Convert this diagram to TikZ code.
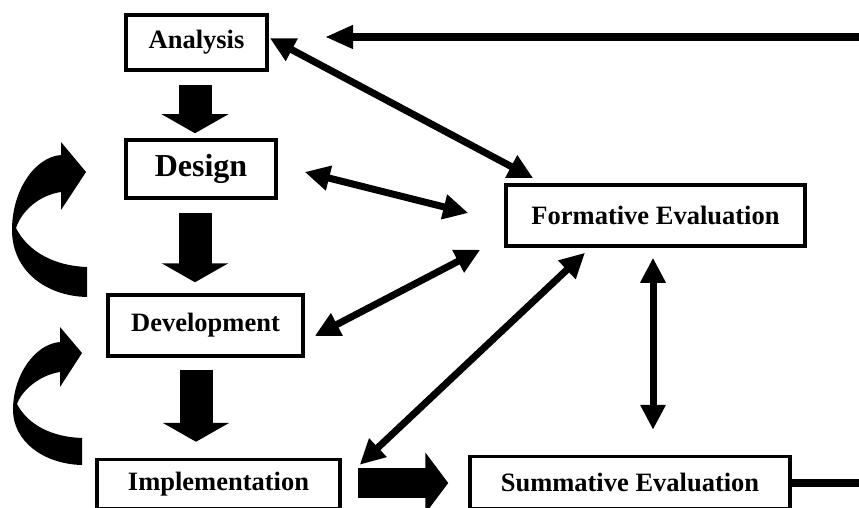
\documentclass[tikz,border=0pt]{standalone}
\usepackage{fontspec}
\setmainfont{Liberation Serif}
\usetikzlibrary{arrows.meta,calc}
\tikzset{every picture/.style={line width=0.75pt}}
\tikzset{
  stagebox/.style={draw, line width=3.5pt, inner sep=0pt,
    font=\bfseries\fontsize{26.5}{30}\selectfont},
  twoway/.style={line width=7pt,
    {Triangle[length=25pt,width=24pt]}-{Triangle[length=25pt,width=24pt]}},
  blockarrow/.style={line width=33pt, -{Triangle[length=19pt,width=66pt]}},
  backline/.style={line width=8pt, -{Triangle[length=28pt,width=22pt]}},
}

\begin{document}
\begin{tikzpicture}[x=1pt,y=1pt,yscale=-1,xscale=1]
\clip (0,0) rectangle (859,508);

% Stage boxes
\node [stagebox, minimum width=141, minimum height=55] (analysis) at (196.5,42.5) {Analysis};
\node [stagebox, minimum width=150, minimum height=58, font=\bfseries\fontsize{32}{36}\selectfont] (design) at (201,169) {Design};
\node [stagebox, minimum width=195, minimum height=61] (development) at (205.5,325.5) {Development};
\node [stagebox, minimum width=243, minimum height=49] (implementation) at (218.5,484) {Implementation};
\node [stagebox, minimum width=299, minimum height=61] (formative) at (655.5,215.5) {Formative Evaluation};
\node [stagebox, minimum width=320, minimum height=52] (summative) at (630,482.5) {Summative Evaluation};

% Block arrows down the stages
\draw [blockarrow] ($(analysis.south)+(-1.5,13)$) -- ($(design.north)+(-6,-5)$);
\draw [blockarrow] ($(design.south)+(-6,13)$) -- ($(development.north)+(-10.5,-11)$);
\draw [blockarrow] ($(development.south)+(-9.5,12)$) -- ($(implementation.north)+(-22.5,-16)$);
\draw [line width=30pt, -{Triangle[length=23pt,width=60pt]}] ($(implementation.east)+(16,-1)$) -- ($(summative.west)+(-20,0.5)$);

% Curved loop arrows on the left
\fill (87,297) .. controls (45,296) and (12,270) .. (12,230) .. controls (12,190) and (35,157) .. (61,155) -- (61,142) -- (86,172) -- (61,210) -- (61,192) .. controls (40,195) and (22,210) .. (16,228) .. controls (28,252) and (55,266) .. (87,267) -- cycle;
\fill (82,465) .. controls (42,464) and (13,440) .. (13,410) .. controls (13,375) and (35,344) .. (60,342) -- (60,327) -- (82,353) -- (60,387) -- (60,372) .. controls (40,375) and (22,390) .. (17,404) .. controls (28,425) and (52,437) .. (82,438) -- cycle;

% Two-way links to formative evaluation
\draw [twoway] ($(analysis.east)+(1,-4.5)$) -- ($(formative.north west)+(29,-5)$);
\draw [twoway] ($(design.east)+(27,3)$) -- ($(formative.west)+(-36,-2.5)$);
\draw [twoway] ($(development.east)+(10,10.5)$) -- ($(formative.south west)+(-24,2)$);
\draw [twoway] ($(implementation.north east)+(18,7)$) -- ($(formative.south)+(-70.5,5)$);
\draw [twoway] ($(formative.south)+(-2.5,10)$) -- ($(summative.north)+(23,-25)$);

% Feedback from summative evaluation back to analysis
\coordinate (ret) at (325,37);
\draw [backline] (summative.east) -| (880,37) -- (ret);

\end{tikzpicture}
\end{document}
